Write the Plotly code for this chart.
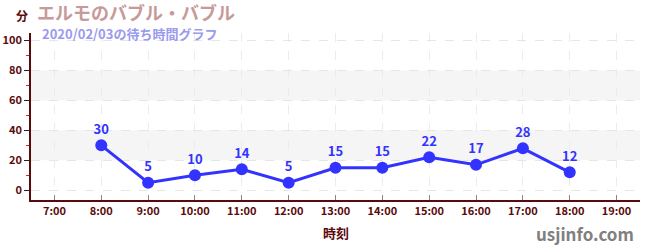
import plotly.graph_objects as go

hours = [8, 9, 10, 11, 12, 13, 14, 15, 16, 17, 18]
waits = [30, 5, 10, 14, 5, 15, 15, 22, 17, 28, 12]
tick_hours = list(range(7, 20))
tick_labels = [f"{h}:00" for h in tick_hours]
band_ranges = [(20, 40), (60, 80)]

FONT = "Noto Sans CJK JP"
MAROON = "#5a0a0a"
BLUE = "#3333ff"
L, R, T, B = 31, 10, 33, 50
W, H = 650, 250

fig = go.Figure()
fig.add_trace(go.Scatter(
    x=hours, y=waits, mode="lines+markers+text",
    line=dict(color=BLUE, width=3),
    marker=dict(color=BLUE, size=12),
    text=[str(v) for v in waits], textposition="top center",
    textfont=dict(family=FONT, size=13, color=BLUE, weight="bold"),
    cliponaxis=False, showlegend=False,
))

for lo, hi in band_ranges:
    fig.add_shape(type="rect", xref="paper", x0=0, x1=1, yref="y", y0=lo, y1=hi,
                  fillcolor="#f5f5f5", line_width=0, layer="below")

fig.update_layout(
    width=W, height=H,
    margin=dict(l=L, r=R, t=T, b=B, autoexpand=False),
    plot_bgcolor="white", paper_bgcolor="white",
    font=dict(family=FONT, color=MAROON),
)
fig.update_xaxes(
    range=[6.5, 19.5], tickvals=tick_hours, ticktext=tick_labels,
    showline=True, linecolor=MAROON, linewidth=1.5,
    ticks="inside", ticklen=5, tickcolor="#888888",
    showgrid=True, gridcolor="#ececec", griddash="dash",
    tickfont=dict(family=FONT, size=11, color=MAROON, weight="bold"),
    automargin=False, zeroline=False,
)
fig.update_yaxes(
    range=[-6.5, 105], tickvals=[0, 20, 40, 60, 80, 100],
    showline=True, linecolor=MAROON, linewidth=1.5,
    ticks="outside", ticklen=5, tickcolor="#222222",
    minor=dict(tickvals=[10, 30, 50, 70, 90], ticks="outside", ticklen=3, tickcolor="#dd2222", showgrid=False),
    showgrid=True, gridcolor="#e6e6e6", griddash="dash",
    tickfont=dict(family=FONT, size=11, color=MAROON, weight="bold"),
    automargin=False, zeroline=False,
)

def pix_ann(px, py, text, size, color, anchor="left"):
    fig.add_annotation(
        x=(px - L) / (W - L - R), y=(H - B - py) / (H - T - B),
        xref="paper", yref="paper", xanchor=anchor, yanchor="middle",
        text=text, showarrow=False,
        font=dict(family=FONT, size=size, color=color, weight="bold"),
    )

pix_ann(14, 16, "分", 12, MAROON)
pix_ann(35, 12, "エルモのバブル・バブル", 18, "#c79a9a")
pix_ann(40, 33, "2020/02/03の待ち時間グラフ", 13, "#9a9aee")
pix_ann(336, 232, "時刻", 13, MAROON, anchor="center")
pix_ann(636, 233, "usjinfo.com", 17, "#808080", anchor="right")

fig.write_html("out.html")
